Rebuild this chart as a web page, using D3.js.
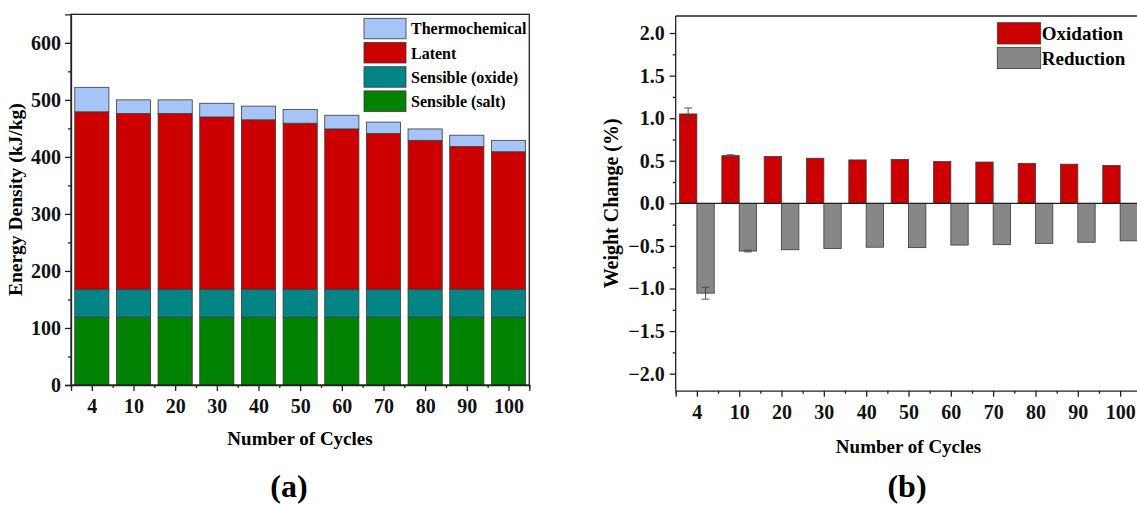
<!DOCTYPE html>
<html>
<head>
<meta charset="utf-8">
<script src="https://cdn.jsdelivr.net/npm/d3@7"></script>
<style>
  body { margin: 0; background: #fff; }
  svg { display: block; font-family: "Liberation Serif", "Times New Roman", serif; font-weight: bold; }
  .axis path, .axis line { stroke: #222; stroke-width: 1.3; }
</style>
</head>
<body>
<script>
var cycles = ["4", "10", "20", "30", "40", "50", "60", "70", "80", "90", "100"];

// panel (a) energy density, kJ/kg
var sensibleSalt  = [119, 119, 119, 119, 119, 119, 119, 119, 119, 119, 119];
var sensibleOxide = [49, 49, 49, 49, 49, 49, 49, 49, 49, 49, 49];
var latent        = [311, 308, 308, 302, 297, 291, 281, 273, 261, 250, 241];
var thermochem    = [43, 24, 24, 24, 24, 24, 24, 20, 20, 20, 20];
var energyTicks   = [0, 100, 200, 300, 400, 500, 600];

// panel (b) weight change, %
var oxidation    = [1.05, 0.56, 0.55, 0.53, 0.51, 0.515, 0.49, 0.485, 0.47, 0.46, 0.445];
var oxidationErr = [0.07, 0.01, 0, 0, 0, 0, 0, 0, 0, 0, 0];
var reduction    = [-1.055, -0.56, -0.545, -0.53, -0.515, -0.52, -0.49, -0.485, -0.47, -0.457, -0.44];
var reductionErr = [0.07, 0.01, 0, 0, 0, 0, 0, 0, 0, 0, 0];
var weightTicks  = [-2.0, -1.5, -1.0, -0.5, 0.0, 0.5, 1.0, 1.5, 2.0];

var W = 1137, H = 505;
var serif = "'Liberation Serif', 'Times New Roman', serif";
var svg = d3.select("body").append("svg").attr("width", W).attr("height", H);

var tickFont = 20;
function styleTicks(g) {
  g.attr("font-family", serif).attr("font-size", tickFont).attr("font-weight", "bold");
  g.selectAll("text")
    .style("font-family", serif)
    .style("font-size", tickFont + "px")
    .style("font-weight", "bold")
    .attr("fill", "#111");
}

// ---------- panel (a) ----------
var a = {left: 71, right: 529.3, top: 14.3, bottom: 385};

var xa = d3.scalePoint().domain(cycles).range([a.left, a.right]).padding(0.5);
var xaIdx = d3.scaleLinear().domain([-0.5, cycles.length - 0.5]).range([a.left, a.right]);
var ya = d3.scaleLinear().domain([0, 650]).range([a.bottom, a.top]);
var barW = xa.step() * 0.82;

var rowsA = cycles.map(function (c, i) {
  return {cycle: c, salt: sensibleSalt[i], oxide: sensibleOxide[i], latent: latent[i], thermo: thermochem[i]};
});
var keysA = ["salt", "oxide", "latent", "thermo"];
var colorA = {salt: "#028202", oxide: "#038585", latent: "#cc0000", thermo: "#a6c4f6"};
var stackA = d3.stack().keys(keysA)(rowsA);

var ga = svg.append("g");
ga.selectAll("g.layer")
  .data(stackA)
  .enter().append("g")
  .attr("class", "layer")
  .attr("fill", function (d) { return colorA[d.key]; })
  .selectAll("rect")
  .data(function (d) { return d; })
  .enter().append("rect")
  .attr("x", function (d) { return xa(d.data.cycle) - barW / 2; })
  .attr("y", function (d) { return ya(d[1]); })
  .attr("width", barW)
  .attr("height", function (d) { return ya(d[0]) - ya(d[1]); })
  .attr("stroke", "#3a3a3a")
  .attr("stroke-width", 0.8);

// frame
ga.append("rect")
  .attr("x", a.left).attr("y", a.top)
  .attr("width", a.right - a.left).attr("height", a.bottom - a.top)
  .attr("fill", "none").attr("stroke", "#222").attr("stroke-width", 1.3);

// y axis
ga.append("g").attr("class", "axis")
  .attr("transform", "translate(" + a.left + ",0)")
  .call(d3.axisLeft(ya).tickValues(energyTicks).tickSize(6).tickPadding(4).tickFormat(d3.format("d")))
  .call(styleTicks);
ga.append("g").attr("class", "axis")
  .attr("transform", "translate(" + a.left + ",0)")
  .call(d3.axisLeft(ya).tickValues(d3.range(50, 650, 100)).tickSize(3).tickFormat(""))
  .call(function (g) { g.select(".domain").remove(); });

// x axis
ga.append("g").attr("class", "axis")
  .attr("transform", "translate(0," + a.bottom + ")")
  .call(d3.axisBottom(xa).tickSize(6).tickPadding(8))
  .call(styleTicks);
ga.append("g").attr("class", "axis")
  .attr("transform", "translate(0," + a.bottom + ")")
  .call(d3.axisBottom(xaIdx).tickValues(d3.range(-0.5, cycles.length, 1)).tickSize(3).tickFormat(""))
  .call(function (g) { g.select(".domain").remove(); });

ga.append("text")
  .attr("transform", "translate(22," + (a.top + a.bottom) / 2 + ") rotate(-90)")
  .attr("text-anchor", "middle")
  .style("font-size", "19.5px")
  .text("Energy Density (kJ/kg)");

ga.append("text")
  .attr("x", 300).attr("y", 445)
  .attr("text-anchor", "middle")
  .style("font-size", "19px")
  .text("Number of Cycles");

ga.append("text")
  .attr("x", 289).attr("y", 497)
  .attr("text-anchor", "middle")
  .style("font-size", "32px")
  .text("(a)");

// legend (a)
var legendA = [
  {key: "thermo", label: "Thermochemical"},
  {key: "latent", label: "Latent"},
  {key: "oxide", label: "Sensible (oxide)"},
  {key: "salt", label: "Sensible (salt)"}
];
var la = ga.append("g").attr("transform", "translate(364,18.3)");
var laItem = la.selectAll("g").data(legendA).enter().append("g")
  .attr("transform", function (d, i) { return "translate(0," + i * 24.2 + ")"; });
laItem.append("rect")
  .attr("width", 42).attr("height", 20.5)
  .attr("fill", function (d) { return colorA[d.key]; })
  .attr("stroke", "#3a3a3a").attr("stroke-width", 0.8);
laItem.append("text")
  .attr("x", 47).attr("y", 10.5).attr("dy", "0.35em")
  .style("font-size", "16px")
  .text(function (d) { return d.label; });

// ---------- panel (b) ----------
var b = {left: 675.7, right: 1141.3, top: 16, bottom: 390.7};

var xb = d3.scalePoint().domain(cycles).range([b.left, b.right]).padding(0.5);
var xbIdx = d3.scaleLinear().domain([-0.5, cycles.length - 0.5]).range([b.left, b.right]);
var yb = d3.scaleLinear().domain([-2.2, 2.2]).range([b.bottom, b.top]);
var halfW = xb.step() * 0.41;

var gb = svg.append("g");

var rowsB = cycles.map(function (c, i) {
  return {cycle: c, ox: oxidation[i], oxErr: oxidationErr[i], red: reduction[i], redErr: reductionErr[i]};
});

gb.selectAll("rect.ox").data(rowsB).enter().append("rect")
  .attr("class", "ox")
  .attr("x", function (d) { return xb(d.cycle) - halfW; })
  .attr("y", function (d) { return yb(d.ox); })
  .attr("width", halfW)
  .attr("height", function (d) { return yb(0) - yb(d.ox); })
  .attr("fill", "#cc0000").attr("stroke", "#3a3a3a").attr("stroke-width", 0.8);

gb.selectAll("rect.red").data(rowsB).enter().append("rect")
  .attr("class", "red")
  .attr("x", function (d) { return xb(d.cycle); })
  .attr("y", yb(0))
  .attr("width", halfW)
  .attr("height", function (d) { return yb(d.red) - yb(0); })
  .attr("fill", "#878787").attr("stroke", "#3a3a3a").attr("stroke-width", 0.8);

// error bars
function errBars(cls, val, err, off) {
  var e = gb.selectAll("g." + cls).data(rowsB.filter(function (d) { return d[err] > 0; }))
    .enter().append("g").attr("class", cls)
    .attr("stroke", "#444").attr("stroke-width", 0.9);
  var cx = function (d) { return xb(d.cycle) + off; };
  e.append("line")
    .attr("x1", cx).attr("x2", cx)
    .attr("y1", function (d) { return yb(d[val] - d[err]); })
    .attr("y2", function (d) { return yb(d[val] + d[err]); });
  [1, -1].forEach(function (s) {
    e.append("line")
      .attr("x1", function (d) { return cx(d) - 4; })
      .attr("x2", function (d) { return cx(d) + 4; })
      .attr("y1", function (d) { return yb(d[val] + s * d[err]); })
      .attr("y2", function (d) { return yb(d[val] + s * d[err]); });
  });
}
errBars("oxerr", "ox", "oxErr", -halfW / 2);
errBars("rederr", "red", "redErr", halfW / 2);

// zero line and top frame
gb.append("line")
  .attr("x1", b.left).attr("x2", b.right)
  .attr("y1", yb(0)).attr("y2", yb(0))
  .attr("stroke", "#222").attr("stroke-width", 1.3);
gb.append("line")
  .attr("x1", b.left).attr("x2", b.right)
  .attr("y1", b.top).attr("y2", b.top)
  .attr("stroke", "#222").attr("stroke-width", 1.3);

gb.append("g").attr("class", "axis")
  .attr("transform", "translate(" + b.left + ",0)")
  .call(d3.axisLeft(yb).tickValues(weightTicks).tickSize(6).tickPadding(5)
    .tickFormat(function (d) { return d3.format(".1f")(d).replace("-", "\u2212"); }))
  .call(function (g) { g.select(".domain").attr("d", "M0," + b.bottom + "V" + b.top); })
  .call(styleTicks);
gb.append("g").attr("class", "axis")
  .attr("transform", "translate(" + b.left + ",0)")
  .call(d3.axisLeft(yb).tickValues(d3.range(-1.75, 2.2, 0.5)).tickSize(3).tickFormat(""))
  .call(function (g) { g.select(".domain").remove(); });

gb.append("g").attr("class", "axis")
  .attr("transform", "translate(0," + b.bottom + ")")
  .call(d3.axisBottom(xb).tickSize(6).tickPadding(8.5))
  .call(styleTicks);
gb.append("g").attr("class", "axis")
  .attr("transform", "translate(0," + b.bottom + ")")
  .call(d3.axisBottom(xbIdx).tickValues(d3.range(-0.5, cycles.length, 1)).tickSize(3).tickFormat(""))
  .call(function (g) { g.select(".domain").remove(); });

gb.append("text")
  .attr("transform", "translate(618," + (b.top + b.bottom) / 2 + ") rotate(-90)")
  .attr("text-anchor", "middle")
  .style("font-size", "20px")
  .text("Weight Change (%)");

gb.append("text")
  .attr("x", 908.5).attr("y", 452.7)
  .attr("text-anchor", "middle")
  .style("font-size", "19px")
  .text("Number of Cycles");

gb.append("text")
  .attr("x", 907).attr("y", 496.7)
  .attr("text-anchor", "middle")
  .style("font-size", "32px")
  .text("(b)");

// legend (b)
var legendB = [
  {label: "Oxidation", color: "#cc0000"},
  {label: "Reduction", color: "#878787"}
];
var lb = gb.append("g").attr("transform", "translate(997.3,22.7)");
var lbItem = lb.selectAll("g").data(legendB).enter().append("g")
  .attr("transform", function (d, i) { return "translate(0," + i * 24.6 + ")"; });
lbItem.append("rect")
  .attr("width", 43.4).attr("height", 21.3)
  .attr("fill", function (d) { return d.color; })
  .attr("stroke", "#3a3a3a").attr("stroke-width", 0.8);
lbItem.append("text")
  .attr("x", 44.5).attr("y", 10.6).attr("dy", "0.35em")
  .style("font-size", "19px")
  .text(function (d) { return d.label; });
</script>
</body>
</html>
